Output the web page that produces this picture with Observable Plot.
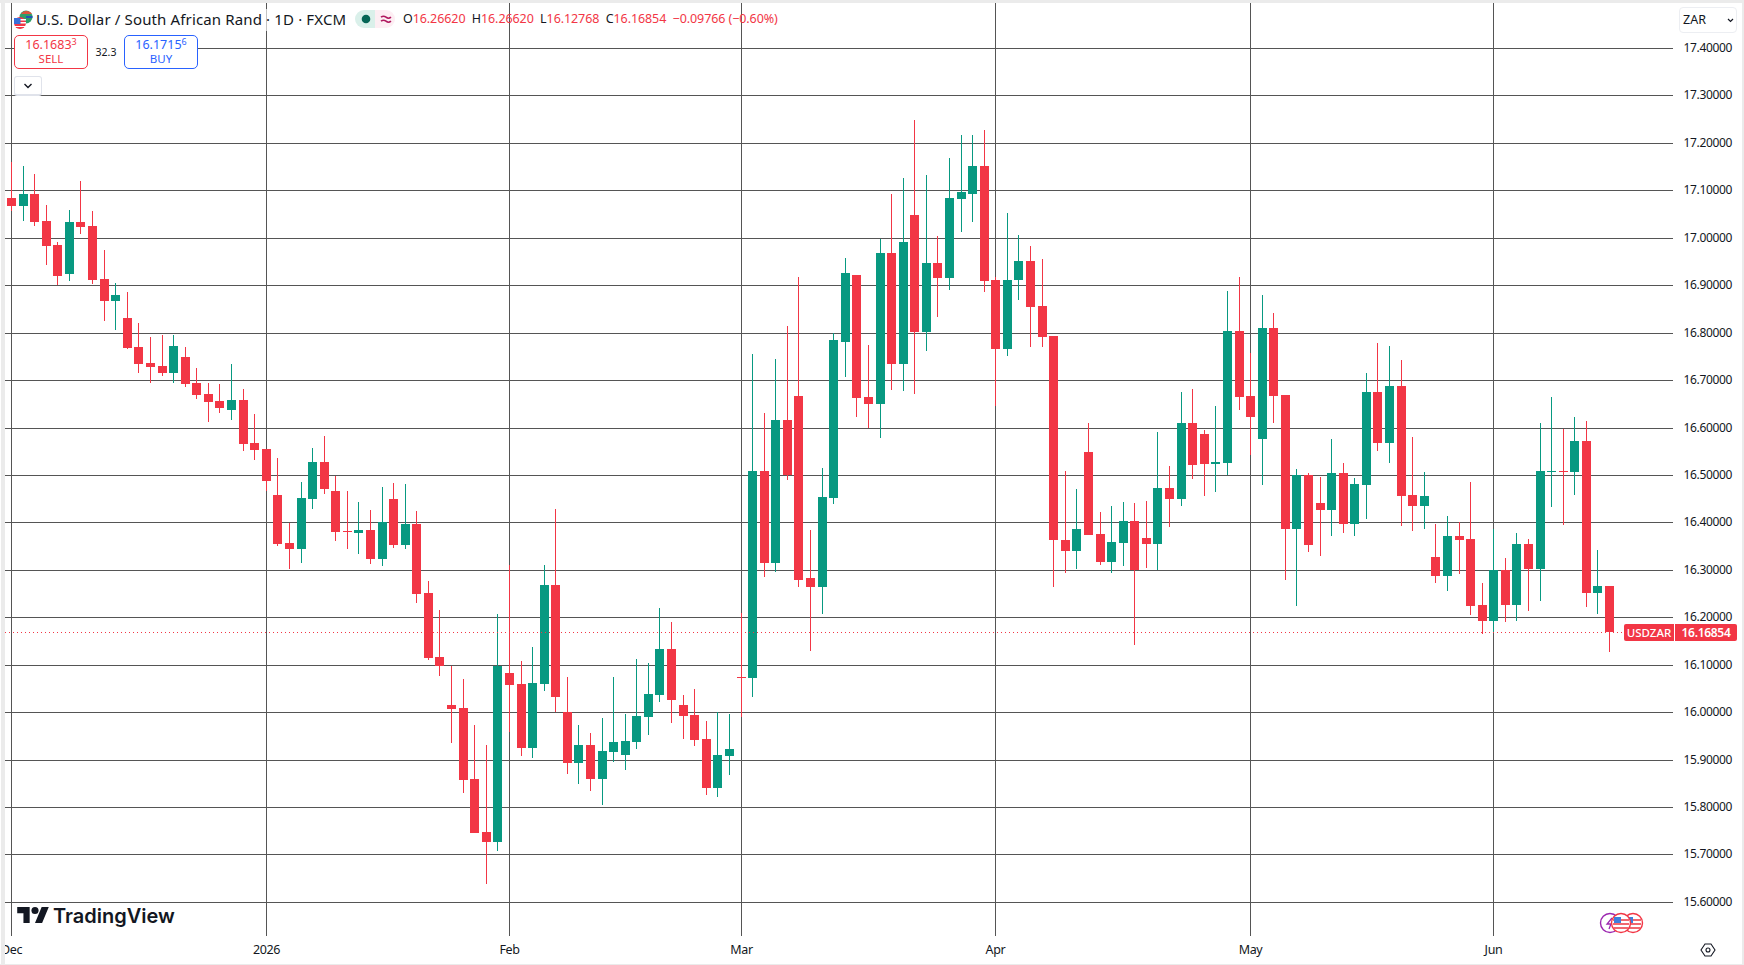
<!DOCTYPE html>
<html><head><meta charset="utf-8">
<script src="https://cdn.jsdelivr.net/npm/d3@7"></script>
<script src="https://cdn.jsdelivr.net/npm/@observablehq/plot@0.6"></script>
<style>
html,body{margin:0;padding:0;background:#fff;width:1744px;height:965px;overflow:hidden;font-family:"Noto Sans",sans-serif;color:#131722}
#chart{position:absolute;left:0;top:0}
.a{position:absolute;white-space:nowrap}
sup{font-size:9px;line-height:0;vertical-align:4px}
.box{box-sizing:border-box;border:1px solid;border-radius:5px;background:#fff;text-align:center;font-size:12.5px;line-height:14px;padding-top:2px}
</style></head><body>
<div id="chart"></div>
<script>
const opens=[17.084,17.068,17.092,17.035,16.985,16.924,17.033,17.025,16.913,16.867,16.831,16.770,16.736,16.730,16.715,16.748,16.694,16.670,16.656,16.637,16.658,16.567,16.554,16.457,16.356,16.344,16.449,16.527,16.466,16.381,16.377,16.384,16.322,16.449,16.352,16.396,16.251,16.116,16.015,16.008,15.859,15.747,15.726,16.082,16.059,15.924,16.059,16.268,16.000,15.892,15.930,15.859,15.916,15.909,15.937,15.989,16.036,16.133,16.015,15.994,15.943,15.840,15.907,16.0735,16.072,16.509,16.315,16.615,16.667,16.282,16.263,16.452,16.781,16.921,16.665,16.649,16.967,16.733,17.049,16.802,16.946,16.916,17.081,17.093,17.152,16.910,16.766,16.910,16.950,16.857,16.792,16.363,16.340,16.548,16.376,16.317,16.357,16.403,16.367,16.354,16.473,16.449,16.610,16.586,16.523,16.525,16.804,16.667,16.576,16.810,16.669,16.386,16.499,16.441,16.426,16.504,16.397,16.479,16.675,16.568,16.688,16.458,16.435,16.327,16.287,16.372,16.365,16.226,16.192,16.299,16.226,16.355,16.302,16.507,16.509,16.507,16.572,16.251,16.2662];
const highs=[17.160,17.151,17.134,17.069,16.991,17.059,17.120,17.056,16.974,16.905,16.886,16.820,16.791,16.795,16.795,16.770,16.725,16.694,16.692,16.734,16.681,16.628,16.554,16.535,16.398,16.485,16.557,16.582,16.497,16.466,16.443,16.426,16.474,16.483,16.480,16.424,16.276,16.215,16.097,16.070,15.973,15.930,16.207,16.310,16.108,16.137,16.310,16.428,16.074,15.973,15.956,15.987,16.074,15.996,16.112,16.103,16.219,16.190,16.036,16.048,15.981,16.000,15.996,16.209,16.754,16.630,16.745,16.815,16.918,16.385,16.514,16.800,16.958,16.921,16.775,16.997,17.093,17.125,17.249,17.133,17.003,17.169,17.216,17.216,17.227,16.918,17.052,17.005,16.982,16.956,16.794,16.508,16.470,16.610,16.422,16.435,16.443,16.441,16.445,16.591,16.519,16.675,16.681,16.595,16.646,16.888,16.918,16.757,16.880,16.842,16.669,16.513,16.504,16.496,16.576,16.525,16.494,16.715,16.778,16.772,16.743,16.580,16.507,16.397,16.414,16.401,16.486,16.273,16.386,16.325,16.378,16.365,16.610,16.665,16.597,16.623,16.614,16.342,16.2662];
const lows=[17.056,17.035,17.025,16.943,16.900,16.909,17.008,16.902,16.824,16.805,16.765,16.715,16.694,16.708,16.694,16.685,16.660,16.611,16.630,16.616,16.550,16.531,16.466,16.350,16.301,16.314,16.428,16.460,16.360,16.344,16.333,16.312,16.308,16.346,16.344,16.230,16.110,16.076,15.935,15.829,15.745,15.637,15.707,15.958,15.907,15.903,16.044,16.000,15.869,15.848,15.833,15.804,15.895,15.878,15.922,15.951,16.021,15.977,15.943,15.928,15.825,15.821,15.867,15.989,16.032,16.286,16.296,16.490,16.264,16.130,16.208,16.439,16.707,16.623,16.600,16.579,16.680,16.678,16.671,16.762,16.834,16.889,17.012,17.034,16.885,16.646,16.750,16.868,16.769,16.770,16.263,16.293,16.302,16.373,16.310,16.293,16.308,16.141,16.304,16.300,16.390,16.435,16.491,16.456,16.464,16.499,16.637,16.542,16.479,16.610,16.279,16.224,16.338,16.329,16.371,16.378,16.371,16.407,16.551,16.526,16.393,16.382,16.386,16.273,16.256,16.292,16.205,16.165,16.168,16.190,16.192,16.214,16.235,16.433,16.395,16.458,16.222,16.207,16.12768];
const closes=[17.068,17.092,17.034,16.983,16.919,17.033,17.023,16.911,16.867,16.879,16.767,16.734,16.727,16.715,16.772,16.692,16.668,16.654,16.641,16.658,16.565,16.552,16.487,16.354,16.344,16.451,16.527,16.470,16.379,16.379,16.384,16.322,16.400,16.352,16.396,16.249,16.114,16.097,16.006,15.857,15.745,15.726,16.098,16.057,15.924,16.061,16.268,16.032,15.892,15.930,15.859,15.918,15.937,15.939,15.992,16.038,16.133,16.025,15.992,15.941,15.840,15.909,15.922,16.0725,16.509,16.315,16.615,16.500,16.279,16.263,16.454,16.784,16.926,16.663,16.649,16.967,16.733,16.992,16.802,16.946,16.916,17.083,17.096,17.152,16.908,16.766,16.912,16.950,16.855,16.790,16.362,16.340,16.386,16.373,16.316,16.359,16.403,16.300,16.354,16.473,16.449,16.610,16.521,16.523,16.527,16.804,16.664,16.622,16.810,16.667,16.386,16.499,16.352,16.426,16.504,16.397,16.481,16.675,16.567,16.688,16.456,16.435,16.456,16.287,16.372,16.363,16.224,16.192,16.299,16.226,16.355,16.302,16.509,16.509,16.507,16.572,16.251,16.266,16.16854];

const monthBars=[0,22,43,63,85,107,128];
const monthLabels=["Dec","2026","Feb","Mar","Apr","May","Jun"];
const priceTicks=[17.4,17.3,17.2,17.1,17.0,16.9,16.8,16.7,16.6,16.5,16.4,16.3,16.2,16.1,16.0,15.9,15.8,15.7,15.6];
const lastPrice=16.16854;

const bars=closes.map((c,i)=>({i,o:opens[i],h:highs[i],l:lows[i],c,dir:c>=opens[i]?"up":"down"}));
const RED="#F23645",GREEN="#089981",GRID="#555";
const font='"Noto Sans",sans-serif';

const svg=Plot.plot({
  width:1744,height:965,
  marginTop:3,marginBottom:29,marginLeft:5,marginRight:71,
  style:{fontFamily:font,background:"transparent",color:"#131722",letterSpacing:"-0.35px"},
  x:{domain:[-0.518,143.52],round:true,axis:null},
  y:{domain:[15.5282,17.4949],round:true,axis:null},
  color:{domain:["up","down"],range:[GREEN,RED]},
  marks:[
    Plot.ruleY(priceTicks,{stroke:GRID,strokeWidth:1}),
    Plot.ruleX(monthBars,{stroke:GRID,strokeWidth:1}),
    Plot.axisY({anchor:"right",ticks:priceTicks,tickSize:0,tickPadding:10,label:null,fontSize:12,tickFormat:d=>d.toFixed(5)}),
    Plot.axisX({anchor:"bottom",ticks:monthBars,tickSize:0,tickPadding:9,label:null,fontSize:12.5,tickFormat:i=>monthLabels[monthBars.indexOf(i)]}),
    Plot.ruleX(bars,{x:"i",y1:"l",y2:"h",stroke:"dir",strokeWidth:1}),
    Plot.ruleX(bars,{x:"i",y1:"o",y2:"c",stroke:"dir",strokeWidth:9}),
    Plot.ruleY([lastPrice],{stroke:RED,strokeWidth:1,strokeDasharray:"1 3"})
  ]
});
document.getElementById("chart").append(svg);

const ui=`
<div class="a" style="left:0;top:0;width:1744px;height:3px;background:#ebebeb"></div>
<div class="a" style="left:1px;top:0;width:4px;height:965px;background:#ebebeb"></div>
<div class="a" style="left:0;top:964px;width:1744px;height:1px;background:#ebebeb"></div>
<div class="a" style="left:1742px;top:0;width:2px;height:965px;background:#ebebeb"></div>

<div class="a" style="left:34px;top:9px;width:318px;height:22px;background:rgba(255,255,255,.65)"></div>
<svg class="a" style="left:14px;top:10px" width="19" height="19" viewBox="0 0 19 19">
  <circle cx="12" cy="7" r="6.5" fill="#2e9e6b"/><path d="M7 4a6.5 6.5 0 0 1 11 0z" fill="#e0533d"/><path d="M12 6h6.5v2H12z" fill="#2255b8"/>
  <circle cx="6" cy="13" r="6" fill="#f23645"/><path d="M0 9h12v1.6H0zM0 12h12v1.6H0z" fill="#fff"/><path d="M0 8h6.5v6H0z" fill="#3a6fd8"/><path d="M1 16h10v1H1z" fill="#fff"/>
</svg>
<div class="a" style="left:36px;top:8px;font-size:15px;line-height:22px;letter-spacing:.14px">U.S. Dollar / South African Rand · 1D · FXCM</div>
<div class="a" style="left:355px;top:10px;width:20px;height:18px;background:#daf0ea;border-radius:9px 0 0 9px"></div>
<div class="a" style="left:375px;top:10px;width:20px;height:18px;background:#fdeef3;border-radius:0 9px 9px 0"></div>
<svg class="a" style="left:355px;top:10px" width="40" height="18"><circle cx="11" cy="9" r="4.3" fill="#056656"/><path d="M26 7.2q2.5-2 5 0t5 0M26 11.2q2.5-2 5 0t5 0" fill="none" stroke="#b0185f" stroke-width="1.6"/></svg>
<div class="a" style="left:403px;top:10px;font-size:12.5px;line-height:18px;letter-spacing:-.08px">O<span style="color:#F23645">16.26620</span>&nbsp; H<span style="color:#F23645">16.26620</span>&nbsp; L<span style="color:#F23645">16.12768</span>&nbsp; C<span style="color:#F23645">16.16854</span>&nbsp; <span style="color:#F23645">−0.09766 (−0.60%)</span></div>

<div class="a box" style="left:14px;top:35px;width:74px;height:34px;border-color:#F23645;color:#F23645">16.1683<sup>3</sup><br><span style="font-size:11.5px">SELL</span></div>
<div class="a" style="left:88px;top:45px;width:36px;height:14px;background:#fff;text-align:center;font-size:10.5px;line-height:14px">32.3</div>
<div class="a box" style="left:124px;top:35px;width:74px;height:34px;border-color:#2962FF;color:#2962FF">16.1715<sup>6</sup><br><span style="font-size:11.5px">BUY</span></div>
<div class="a" style="left:14px;top:76px;width:28px;height:20px;box-sizing:border-box;border:1px solid #e0e3eb;border-bottom:2px solid #e0e3eb;border-radius:3px;background:#fff"></div>
<svg class="a" style="left:23px;top:82px" width="10" height="8"><path d="M1.5 2l3.5 3.5L8.5 2" fill="none" stroke="#131722" stroke-width="1.4"/></svg>

<div class="a" style="left:1679px;top:7px;width:58px;height:26px;box-sizing:border-box;border:1px solid #eceef2;border-radius:4px;background:#fff;font-size:12.5px;line-height:24px;padding-left:3px">ZAR</div>
<svg class="a" style="left:1726px;top:17px" width="10" height="7"><path d="M2 2l2.5 2.5L7 2" fill="none" stroke="#131722" stroke-width="1.2"/></svg>

<div class="a" style="left:1624px;top:624px;width:50px;height:17px;background:#F23645;border-radius:2px 0 0 2px;color:#fff;font-size:11.5px;font-weight:500;line-height:17px;text-align:center">USDZAR</div>
<div class="a" style="left:1675px;top:624px;width:62px;height:17px;background:#F23645;border-radius:0 2px 2px 0;color:#fff;font-size:12px;letter-spacing:-.3px;line-height:17px;text-align:center;font-weight:600">16.16854</div>

<svg class="a" style="left:17px;top:907px" width="32" height="16" viewBox="0 4 35.5 18"><path d="M14 22H7V11H0V4h14v18zM28 22h-8l7.5-18h8L28 22z" fill="#131722"/><circle cx="20" cy="8" r="4" fill="#131722"/></svg>
<div class="a" style="left:53px;top:903px;font-family:Inter,sans-serif;font-weight:600;font-size:20px;line-height:26px;color:#131722">TradingView</div>

<svg class="a" style="left:1598px;top:911px" width="48" height="24" viewBox="0 0 48 24">
  <circle cx="12" cy="12" r="9.5" fill="#fff" stroke="#9c27b0" stroke-width="1.4"/><path d="M14 7l-5 6h4l-2 5" fill="none" stroke="#9c27b0" stroke-width="1.3"/>
  <circle cx="35" cy="12" r="9.5" fill="#fff" stroke="#F23645" stroke-width="1.4"/><path d="M27 8h16v2H27zM27 12h16v2H27zM28 16h14v2H28z" fill="#f0686f"/><path d="M28 6h7v6h-7z" fill="#3f7fdc"/>
  <circle cx="23" cy="12" r="9.5" fill="#fff" stroke="#F23645" stroke-width="1.4"/><path d="M15 8h16v2H15zM15 12h16v2H15zM16 16h14v2H16z" fill="#f0686f"/><path d="M16 6h7v6h-7z" fill="#3f7fdc"/>
</svg>
<svg class="a" style="left:1700px;top:942px" width="16" height="16" viewBox="0 0 16 16"><path d="M5 2h6l4 6-4 6H5L1 8z" fill="none" stroke="#131722" stroke-width="1.1"/><circle cx="8" cy="8" r="2" fill="none" stroke="#131722" stroke-width="1.1"/></svg>
`;
document.body.insertAdjacentHTML("beforeend",ui);
</script>
</body></html>
